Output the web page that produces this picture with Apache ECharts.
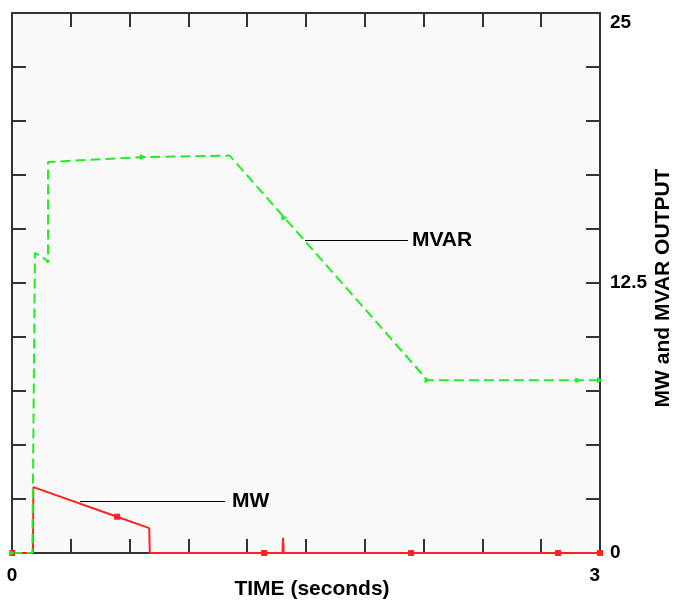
<!DOCTYPE html>
<html>
<head>
<meta charset="utf-8">
<title>MW and MVAR output</title>
<script src="https://cdn.jsdelivr.net/npm/echarts@6/dist/echarts.min.js"></script>
<style>
  html, body { margin: 0; padding: 0; background: #fff; }
  #chart { width: 673px; height: 600px; }
</style>
</head>
<body>
<div id="chart"></div>
<script>
// data (time in seconds, output in MW / MVAR)
var mwTime   = [0, 0.107, 0.109, 0.536, 0.70, 0.703, 1.286, 1.380, 1.383, 1.386, 2.036, 2.786, 3.0];
var mwValue  = [0, 0,     3.05,  1.68,  1.15, 0,     0,     0,     0.7,   0,     0,     0,     0];
var mwMarked = [0, 0.536, 1.286, 2.036, 2.786, 3.0];

var mvarTime   = [0, 0.104, 0.117, 0.170, 0.184, 0.184, 0.668, 1.11, 1.39,  2.12, 2.89, 3.0];
var mvarValue  = [0, 0,     13.9,  13.6,  13.45, 18.1,  18.33, 18.4, 15.52, 8.0,  8.0,  8.0];
var mvarMarked = [0, 0.668, 1.39, 2.12, 2.89, 3.0];

var yTickLabels = [0, 12.5, 25];
var xTickLabels = [0, 3];

// leader lines for the series labels (data coords)
var mvarNote = { from: [1.495, 14.49], to: [2.02, 14.49], text: 'MVAR', gap: 4 };
var mwNote   = { from: [0.347, 2.41],  to: [1.087, 2.41], text: 'MW', gap: 7 };

var FONT = "'Liberation Sans', Arial, sans-serif";
var AXIS_COLOR = '#333';

function build(times, values, marked, symbol){
	return times.map(function(t, i){
		var item = { value: [t, values[i]] };
		if (marked.indexOf(t) >= 0 && (i === 0 || times[i-1] !== t)) {
			item.symbol = symbol;
		}
		return item;
	});
}

function isTick(list, v){
	for (var i = 0; i < list.length; i++) {
		if (Math.abs(list[i] - v) < 1e-6) return true;
	}
	return false;
}

function noteLine(note){
	return {
		silent: true,
		symbol: ['none', 'none'],
		animation: false,
		lineStyle: { color: '#000', width: 1, type: 'solid' },
		label: {
			show: true, position: 'end', distance: note.gap,
			formatter: note.text, color: '#000', fontSize: 21, fontWeight: 'bold', fontFamily: FONT
		},
		emphasis: { disabled: true },
		data: [[{ coord: note.from }, { coord: note.to }]]
	};
}

var tickCommon = { show: true, inside: true, length: 14, lineStyle: { color: AXIS_COLOR, width: 2 } };
var lineCommon = { show: true, onZero: false, lineStyle: { color: AXIS_COLOR, width: 2 } };
var labelText = { color: '#000', fontSize: 19, fontWeight: 'bold', fontFamily: FONT };
var nameText  = { color: '#000', fontSize: 21, fontWeight: 'bold', fontFamily: FONT };

var option = {
	animation: false,
	backgroundColor: '#fff',
	textStyle: { fontFamily: FONT },
	grid: {
		left: 12, right: 73, top: 13, bottom: 47,
		outerBoundsMode: 'none', containLabel: false,
		show: true, backgroundColor: '#f9f9f9', borderWidth: 0
	},
	xAxis: [{
		type: 'value', position: 'bottom', min: 0, max: 3, interval: 0.3,
		axisLine: lineCommon, axisTick: tickCommon, splitLine: { show: false },
		axisLabel: Object.assign({
			margin: 13, alignMaxLabel: 'right',
			formatter: function(v){ return isTick(xTickLabels, v) ? String(Math.round(v)) : ''; }
		}, labelText),
		name: 'TIME (seconds)', nameLocation: 'middle', nameGap: 26, nameMoveOverlap: false,
		nameTextStyle: Object.assign({ padding: [0, 0, 0, 12] }, nameText)
	}, {
		type: 'value', position: 'top', min: 0, max: 3, interval: 0.3,
		axisLine: lineCommon, axisTick: tickCommon, splitLine: { show: false },
		axisLabel: { show: false }
	}],
	yAxis: [{
		type: 'value', position: 'left', min: 0, max: 25, interval: 2.5,
		axisLine: lineCommon, axisTick: tickCommon, splitLine: { show: false },
		axisLabel: { show: false }
	}, {
		type: 'value', position: 'right', min: 0, max: 25, interval: 2.5,
		axisLine: lineCommon, axisTick: tickCommon, splitLine: { show: false },
		axisLabel: Object.assign({
			margin: 10,
			verticalAlignMaxLabel: 'top',
			formatter: function(v){ return isTick(yTickLabels, v) ? String(v) : ''; }
		}, labelText),
		name: 'MW and MVAR OUTPUT', nameLocation: 'middle', nameGap: 53, nameRotate: 90,
		nameMoveOverlap: false,
		nameTextStyle: Object.assign({ padding: [0, 10, 0, 0] }, nameText)
	}],
	series: [{
		name: 'MW', type: 'line',
		xAxisIndex: 0, yAxisIndex: 0,
		symbol: 'none', symbolSize: 6,
		itemStyle: { color: '#ff2222' },
		lineStyle: { color: '#ff2222', width: 2 },
		data: build(mwTime, mwValue, mwMarked, 'rect'),
		markLine: noteLine(mwNote)
	}, {
		name: 'MVAR', type: 'line',
		xAxisIndex: 0, yAxisIndex: 0,
		symbol: 'none', symbolSize: 6, symbolRotate: -90,
		itemStyle: { color: '#22ee22' },
		lineStyle: { color: '#22ee22', width: 2, type: [10, 5] },
		data: build(mvarTime, mvarValue, mvarMarked, 'triangle'),
		markLine: noteLine(mvarNote)
	}]
};

var myChart = echarts.init(document.getElementById('chart'));
myChart.setOption(option);
</script>
</body>
</html>
